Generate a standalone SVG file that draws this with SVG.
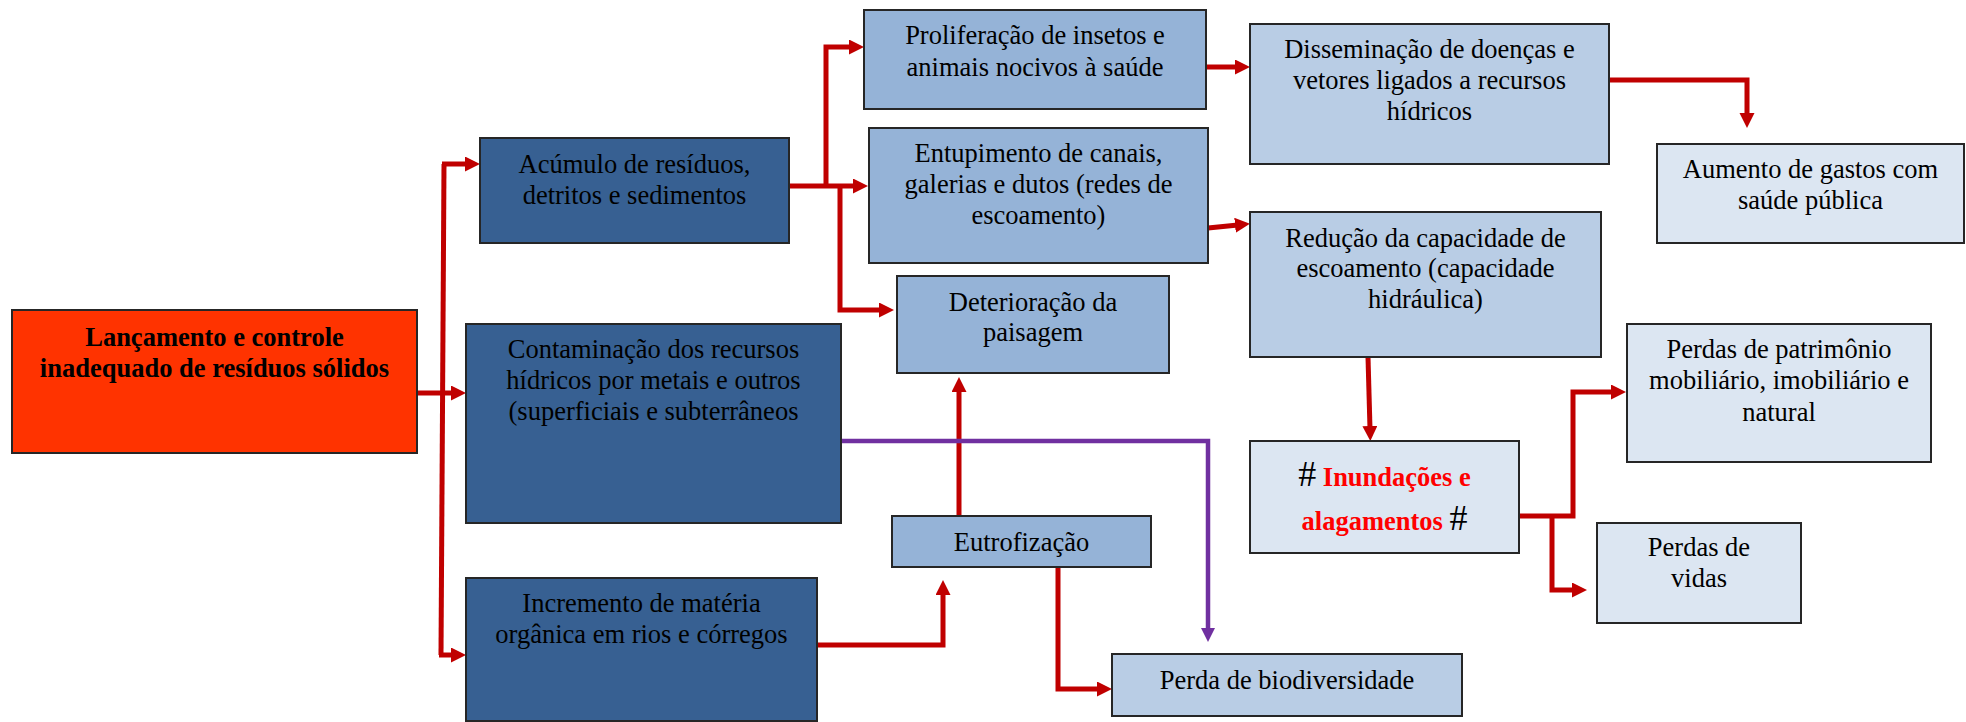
<svg xmlns="http://www.w3.org/2000/svg" width="1966" height="722" viewBox="0 0 1966 722">
<defs>
<style>
.box{stroke:#262626;stroke-width:2}
.f0{fill:#FF3300}
.f1{fill:#376092}
.f2{fill:#95B3D7}
.f3{fill:#B9CDE5}
.f4{fill:#DCE6F2}
text{font-family:"Liberation Serif","Times New Roman",serif;font-size:26.5px;fill:#000;text-anchor:middle}
.b{font-weight:bold}
.red{fill:#FF0000;font-weight:bold}
.hash{font-size:36px}
.c{fill:none;stroke:#C00000;stroke-width:5;stroke-linejoin:miter;stroke-linecap:butt}
.p{fill:none;stroke:#7030A0;stroke-width:4.5;stroke-linejoin:miter}
</style>
<marker id="ar" markerUnits="userSpaceOnUse" markerWidth="16" markerHeight="16" refX="3" refY="7.5" orient="auto">
<path d="M0,0 L15,7.5 L0,15 z" fill="#C00000"/>
</marker>
<marker id="ap" markerUnits="userSpaceOnUse" markerWidth="16" markerHeight="16" refX="3" refY="7" orient="auto">
<path d="M0,0 L14,7 L0,14 z" fill="#7030A0"/>
</marker>
</defs>
<rect width="1966" height="722" fill="#fff"/>

<g id="connectors">
<path class="c" d="M417,393 H454" marker-end="url(#ar)"/>
<path class="c" d="M441,655 L444,164"/>
<path class="c" d="M442,164 H468" marker-end="url(#ar)"/>
<path class="c" d="M439,655 H454" marker-end="url(#ar)"/>
<path class="c" d="M789,186 H856" marker-end="url(#ar)"/>
<path class="c" d="M826,188 V47 H852" marker-end="url(#ar)"/>
<path class="c" d="M840,184 V310 H882" marker-end="url(#ar)"/>
<path class="c" d="M1206,67 H1238" marker-end="url(#ar)"/>
<path class="c" d="M1208,228 L1238,225" marker-end="url(#ar)"/>
<path class="c" d="M1609,80 H1747 V116" marker-end="url(#ar)"/>
<path class="c" d="M1368,357 L1370,429" marker-end="url(#ar)"/>
<path class="c" d="M1519,516 H1573 V392 H1614" marker-end="url(#ar)"/>
<path class="c" d="M1552,514 V590 H1575" marker-end="url(#ar)"/>
<path class="c" d="M817,645 H943 V592" marker-end="url(#ar)"/>
<path class="c" d="M959,516 V389" marker-end="url(#ar)"/>
<path class="c" d="M1058,567 V689 H1100" marker-end="url(#ar)"/>
<path class="p" d="M841,441 H1208 V631" marker-end="url(#ap)"/>
</g>

<g id="n-lancamento">
<rect class="box f0" x="12" y="310" width="405" height="143"/>
<text class="b" x="214.5" y="346">Lançamento e controle</text>
<text class="b" x="214.5" y="377">inadequado de resíduos sólidos</text>
</g>

<g id="n-acumulo">
<rect class="box f1" x="480" y="138" width="309" height="105"/>
<text x="634.5" y="173">Acúmulo de resíduos,</text>
<text x="634.5" y="204">detritos e sedimentos</text>
</g>

<g id="n-contaminacao">
<rect class="box f1" x="466" y="324" width="375" height="199"/>
<text x="653.5" y="358">Contaminação dos recursos</text>
<text x="653.5" y="389">hídricos por metais e outros</text>
<text x="653.5" y="420">(superficiais e subterrâneos</text>
</g>

<g id="n-incremento">
<rect class="box f1" x="466" y="578" width="351" height="143"/>
<text x="641.5" y="612">Incremento de matéria</text>
<text x="641.5" y="643">orgânica em rios e córregos</text>
</g>

<g id="n-proliferacao">
<rect class="box f2" x="864" y="10" width="342" height="99"/>
<text x="1035" y="44">Proliferação de insetos e</text>
<text x="1035" y="76">animais nocivos à saúde</text>
</g>

<g id="n-entupimento">
<rect class="box f2" x="869" y="128" width="339" height="135"/>
<text x="1038.5" y="162">Entupimento de canais,</text>
<text x="1038.5" y="193">galerias e dutos (redes de</text>
<text x="1038.5" y="224">escoamento)</text>
</g>

<g id="n-deterioracao">
<rect class="box f2" x="897" y="276" width="272" height="97"/>
<text x="1033" y="311">Deterioração da</text>
<text x="1033" y="341">paisagem</text>
</g>

<g id="n-eutrofizacao">
<rect class="box f2" x="892" y="516" width="259" height="51"/>
<text x="1021.5" y="551">Eutrofização</text>
</g>

<g id="n-biodiversidade">
<rect class="box f3" x="1112" y="654" width="350" height="62"/>
<text x="1287" y="689">Perda de biodiversidade</text>
</g>

<g id="n-disseminacao">
<rect class="box f3" x="1250" y="24" width="359" height="140"/>
<text x="1429.5" y="58">Disseminação de doenças e</text>
<text x="1429.5" y="89">vetores ligados a recursos</text>
<text x="1429.5" y="120">hídricos</text>
</g>

<g id="n-reducao">
<rect class="box f3" x="1250" y="212" width="351" height="145"/>
<text x="1425.5" y="247">Redução da capacidade de</text>
<text x="1425.5" y="277">escoamento (capacidade</text>
<text x="1425.5" y="308">hidráulica)</text>
</g>

<g id="n-aumento">
<rect class="box f4" x="1657" y="144" width="307" height="99"/>
<text x="1810.5" y="178">Aumento de gastos com</text>
<text x="1810.5" y="209">saúde pública</text>
</g>

<g id="n-patrimonio">
<rect class="box f4" x="1627" y="324" width="304" height="138"/>
<text x="1779" y="358">Perdas de patrimônio</text>
<text x="1779" y="389">mobiliário, imobiliário e</text>
<text x="1779" y="421">natural</text>
</g>

<g id="n-inundacoes">
<rect class="box f4" x="1250" y="441" width="269" height="112"/>
<text x="1384.5" y="486"><tspan class="hash">#</tspan> <tspan class="red">Inundações e</tspan></text>
<text x="1384.5" y="530"><tspan class="red">alagamentos</tspan> <tspan class="hash">#</tspan></text>
</g>

<g id="n-vidas">
<rect class="box f4" x="1597" y="523" width="204" height="100"/>
<text x="1699" y="556">Perdas de</text>
<text x="1699" y="587">vidas</text>
</g>
</svg>
